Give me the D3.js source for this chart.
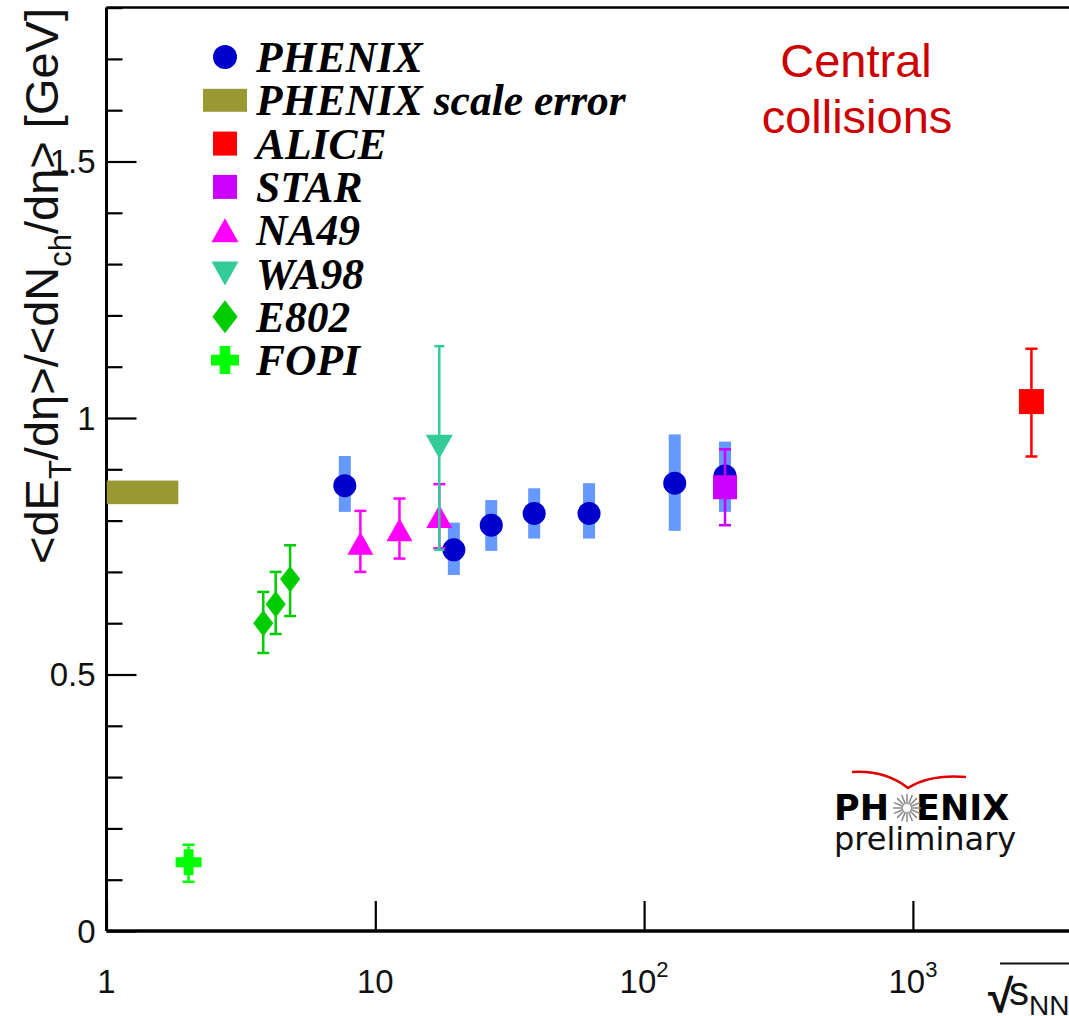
<!DOCTYPE html>
<html><head><meta charset="utf-8">
<script src="https://cdn.jsdelivr.net/npm/d3@7"></script>
<style>
html,body{margin:0;padding:0;background:#fff;}
svg{display:block;}
</style></head>
<body>
<svg id="chart" width="1069" height="1016"></svg>
<script>
// ---------------- data ----------------
const phenixX      = [7.7, 19.6, 27, 39, 62.4, 130, 200];
const phenixY      = [0.868, 0.743, 0.791, 0.814, 0.814, 0.873, 0.887];
const phenixSysLo  = [0.817, 0.694, 0.741, 0.765, 0.765, 0.780, 0.817];
const phenixSysHi  = [0.926, 0.796, 0.840, 0.863, 0.873, 0.968, 0.954];

const aliceX = [2760], aliceY = [1.032], aliceLo = [0.925], aliceHi = [1.135];
const starX  = [200],  starY  = [0.865], starLo  = [0.791], starHi  = [0.939];
const na49X  = [8.8, 12.3, 17.3], na49Y = [0.756, 0.782, 0.808];
const na49Lo = [0.700, 0.726, 0.746], na49Hi = [0.819, 0.843, 0.871];
const wa98X  = [17.3], wa98Y = [0.944], wa98Lo = [0.743], wa98Hi = [1.140];
const e802X  = [3.83, 4.26, 4.82], e802Y = [0.600, 0.637, 0.686];
const e802Lo = [0.542, 0.579, 0.614], e802Hi = [0.661, 0.700, 0.752];
const fopiX  = [2.02], fopiY = [0.134], fopiLo = [0.096], fopiHi = [0.168];
const scaleErrX = [1, 1.85], scaleErrY = [0.832, 0.878];

const legendLabels = ["PHENIX", "PHENIX scale error", "ALICE", "STAR", "NA49", "WA98", "E802", "FOPI"];
const xMajorTicks = [1, 10, 100, 1000];
const xTickLabels = [["1",""],["10",""],["10","2"],["10","3"]];
const yMajorTicks = [0, 0.5, 1, 1.5];
const yTickLabels = ["0", "0.5", "1", "1.5"];

// ---------------- colours ----------------
const C = {
  phenix:"#0000cc", band:"#6699ff", scale:"#999933", alice:"#ff0000", star:"#cc00ff",
  na49:"#ff00ff", wa98:"#33cc99", e802:"#00cc00", fopi:"#00ff00", red:"#cc0000"
};

const svg = d3.select("#chart");
const x = d3.scaleLog().domain([1, 5000]).range([106.5, 1100.8]);
const y = d3.scaleLinear().domain([0, 1.8]).range([931, 7.6]);
const pL = x(1), pB = y(0), pT = y(1.8), pR = 1069;

svg.append("defs").append("clipPath").attr("id","plot")
  .append("rect").attr("x",pL).attr("y",pT).attr("width",pR-pL).attr("height",pB-pT);

// ---------------- axes ----------------
const xMinor = [];
xMajorTicks.forEach(d => { for (let k=2;k<=9;k++) if (d*k<5000) xMinor.push(d*k); });
const yMinor = d3.range(0, 19).map(i => +(i*0.1).toFixed(1)).filter(v => yMajorTicks.indexOf(v) < 0);

function styleAxis(g){ g.select(".domain").remove(); g.selectAll("line").attr("stroke","#000").attr("stroke-width",2.2); g.selectAll("text").remove(); }

svg.append("g").attr("transform",`translate(0,${pB})`)
  .call(d3.axisBottom(x).tickValues(xMajorTicks).tickSize(-30).tickFormat("")).call(styleAxis);
svg.append("g").attr("transform",`translate(0,${pB})`).attr("clip-path","url(#plot)")
  .call(d3.axisBottom(x).tickValues(xMinor).tickSize(-15).tickFormat("")).call(styleAxis);
svg.append("g").attr("transform",`translate(${pL},0)`)
  .call(d3.axisLeft(y).tickValues(yMajorTicks).tickSize(-30).tickFormat("")).call(styleAxis);
svg.append("g").attr("transform",`translate(${pL},0)`)
  .call(d3.axisLeft(y).tickValues(yMinor).tickSize(-16).tickFormat("")).call(styleAxis);

// frame
svg.append("line").attr("x1",pL).attr("x2",pR).attr("y1",pB).attr("y2",pB).attr("stroke","#000").attr("stroke-width",3.5);
svg.append("line").attr("x1",pL).attr("x2",pL).attr("y1",pT).attr("y2",pB).attr("stroke","#000").attr("stroke-width",3);
svg.append("line").attr("x1",pL).attr("x2",pR).attr("y1",pT).attr("y2",pT).attr("stroke","#000").attr("stroke-width",2.5);

// tick labels
const labFont = "'Liberation Sans', Arial, sans-serif";
yMajorTicks.forEach((v,i) => {
  svg.append("text").attr("x",pL-11).attr("y",y(v)).attr("text-anchor","end")
    .attr("dominant-baseline","central").attr("font-family",labFont).attr("font-size",33)
    .attr("fill","#111").text(yTickLabels[i]);
});
xMajorTicks.forEach((v,i) => {
  const t = svg.append("text").attr("x",x(v)).attr("y",993).attr("text-anchor","middle")
    .attr("font-family",labFont).attr("font-size",33).attr("fill","#111");
  t.append("tspan").text(xTickLabels[i][0]);
  if (xTickLabels[i][1]) t.append("tspan").attr("dy",-16).attr("font-size",22).text(xTickLabels[i][1]);
});

// y title
const yt = svg.append("text").attr("transform","translate(58,8) rotate(-90)").attr("text-anchor","end")
  .attr("font-family",labFont).attr("font-size",47).attr("fill","#111");
yt.append("tspan").text("<dE");
yt.append("tspan").attr("font-size",31).attr("dy",13).text("T");
yt.append("tspan").attr("dy",-13).text("/dη>/<dN");
yt.append("tspan").attr("font-size",31).attr("dy",13).text("ch");
yt.append("tspan").attr("dy",-13).text("/dη> [GeV]");

// x title
svg.append("text").attr("x",988).attr("y",1012).attr("font-family",labFont).attr("font-size",46).attr("font-weight","bold").attr("fill","#111").text("√");
svg.append("line").attr("x1",1000).attr("x2",1069).attr("y1",963.5).attr("y2",963.5).attr("stroke","#111").attr("stroke-width",2);
const xt = svg.append("text").attr("x",1009).attr("y",1005).attr("font-family",labFont).attr("font-size",40).attr("fill","#111");
xt.append("tspan").text("s");
xt.append("tspan").attr("font-size",28).attr("dy",10).text("NN");

// ---------------- markers ----------------
const plot = svg.append("g").attr("clip-path","url(#plot)");
const markers = {
  circle: (g,s,c) => g.append("circle").attr("r",s/2).attr("fill",c),
  square: (g,s,c) => g.append("rect").attr("x",-s/2).attr("y",-s/2).attr("width",s).attr("height",s).attr("fill",c),
  tri:    (g,s,c) => g.append("path").attr("d",`M0,${-s*0.46}L${s*0.52},${s*0.46}L${-s*0.52},${s*0.46}Z`).attr("fill",c),
  itri:   (g,s,c) => g.append("path").attr("d",`M0,${s*0.46}L${s*0.52},${-s*0.46}L${-s*0.52},${-s*0.46}Z`).attr("fill",c),
  diamond:(g,s,c) => g.append("path").attr("d",`M0,${-s*0.55}L${s*0.42},0L0,${s*0.55}L${-s*0.42},0Z`).attr("fill",c),
  cross:  (g,s,c) => { const a=s/2, b=s*0.19; g.append("path").attr("d",`M${-b},${-a}H${b}V${-b}H${a}V${b}H${b}V${a}H${-b}V${b}H${-a}V${-b}H${-b}Z`).attr("fill",c); }
};

function errBars(xs, lo, hi, color, cap) {
  xs.forEach((xv,i) => {
    const g = plot.append("g").attr("stroke",color).attr("stroke-width",2.5);
    g.append("line").attr("x1",x(xv)).attr("x2",x(xv)).attr("y1",y(lo[i])).attr("y2",y(hi[i]));
    [lo[i],hi[i]].forEach(v => g.append("line").attr("x1",x(xv)-cap).attr("x2",x(xv)+cap).attr("y1",y(v)).attr("y2",y(v)));
  });
}
function points(xs, ys, shape, size, color) {
  xs.forEach((xv,i) => {
    const g = plot.append("g").attr("transform",`translate(${x(xv)},${y(ys[i])})`);
    markers[shape](g,size,color);
  });
}

// PHENIX scale error
plot.append("rect").attr("x",x(scaleErrX[0])).attr("width",x(scaleErrX[1])-x(scaleErrX[0]))
  .attr("y",y(scaleErrY[1])).attr("height",y(scaleErrY[0])-y(scaleErrY[1])).attr("fill",C.scale);

// PHENIX systematic bands and points
phenixX.forEach((xv,i) => {
  plot.append("rect").attr("x",x(xv)-6).attr("width",12).attr("y",y(phenixSysHi[i]))
    .attr("height",y(phenixSysLo[i])-y(phenixSysHi[i])).attr("fill",C.band);
});
points(phenixX, phenixY, "circle", 23, C.phenix);

errBars(aliceX, aliceLo, aliceHi, C.alice, 6);
points(aliceX, aliceY, "square", 25, C.alice);
errBars(starX, starLo, starHi, C.star, 6);
points(starX, starY, "square", 24, C.star);
errBars(na49X, na49Lo, na49Hi, C.na49, 6);
points(na49X, na49Y, "tri", 25, C.na49);
points(wa98X, wa98Y, "itri", 26, C.wa98);
errBars(wa98X, wa98Lo, wa98Hi, C.wa98, 5);
errBars(e802X, e802Lo, e802Hi, C.e802, 6);
points(e802X, e802Y, "diamond", 24, C.e802);
errBars(fopiX, fopiLo, fopiHi, C.fopi, 6);
points(fopiX, fopiY, "cross", 26, C.fopi);

// ---------------- legend ----------------
const legShapes = ["circle","band","square","square","tri","itri","diamond","cross"];
const legColors = [C.phenix, C.scale, C.alice, C.star, C.na49, C.wa98, C.e802, C.fopi];
const legSizes  = [24, 0, 24, 24, 26, 26, 30, 28];
legendLabels.forEach((lab,i) => {
  const cy = 57 + i*43.3;
  const g = svg.append("g").attr("transform",`translate(225,${cy})`);
  if (legShapes[i] === "band") g.append("rect").attr("x",-22).attr("y",-11.5).attr("width",44).attr("height",23).attr("fill",legColors[i]);
  else markers[legShapes[i]](g, legSizes[i], legColors[i]);
  svg.append("text").attr("x",256).attr("y",cy).attr("dominant-baseline","central")
    .attr("font-family","'Liberation Serif','Times New Roman',serif").attr("font-style","italic").attr("font-weight","bold")
    .attr("font-size",43.5).attr("fill","#000").text(lab);
});

// ---------------- annotations ----------------
svg.append("text").attr("x",856).attr("y",77).attr("text-anchor","middle").attr("font-family",labFont)
  .attr("font-size",47).attr("fill",C.red).text("Central");
svg.append("text").attr("x",857).attr("y",133).attr("text-anchor","middle").attr("font-family",labFont)
  .attr("font-size",47).attr("fill",C.red).text("collisions");

// PHENIX preliminary logo
const logo = svg.append("g");
logo.append("path").attr("d","M852,772 Q885,770 908,788 Q930,774 966,777").attr("fill","none").attr("stroke","#e00000").attr("stroke-width",2.5);
logo.append("text").attr("x",834).attr("y",820).attr("font-family","'DejaVu Sans',sans-serif").attr("font-weight","bold").attr("font-size",35).attr("fill","#000").text("PH");
logo.append("text").attr("x",916).attr("y",820).attr("font-family","'DejaVu Sans',sans-serif").attr("font-weight","bold").attr("font-size",35).attr("fill","#000").text("ENIX");
d3.range(16).forEach(k => {
  const a = k*Math.PI/8;
  logo.append("line").attr("x1",907+4*Math.cos(a)).attr("y1",808+4*Math.sin(a))
    .attr("x2",907+14*Math.cos(a)).attr("y2",808+14*Math.sin(a)).attr("stroke","#888").attr("stroke-width",1.5);
});
logo.append("text").attr("x",834).attr("y",850).attr("font-family","'DejaVu Sans',sans-serif").attr("font-size",32).attr("fill","#111").text("preliminary");
</script>
</body></html>
